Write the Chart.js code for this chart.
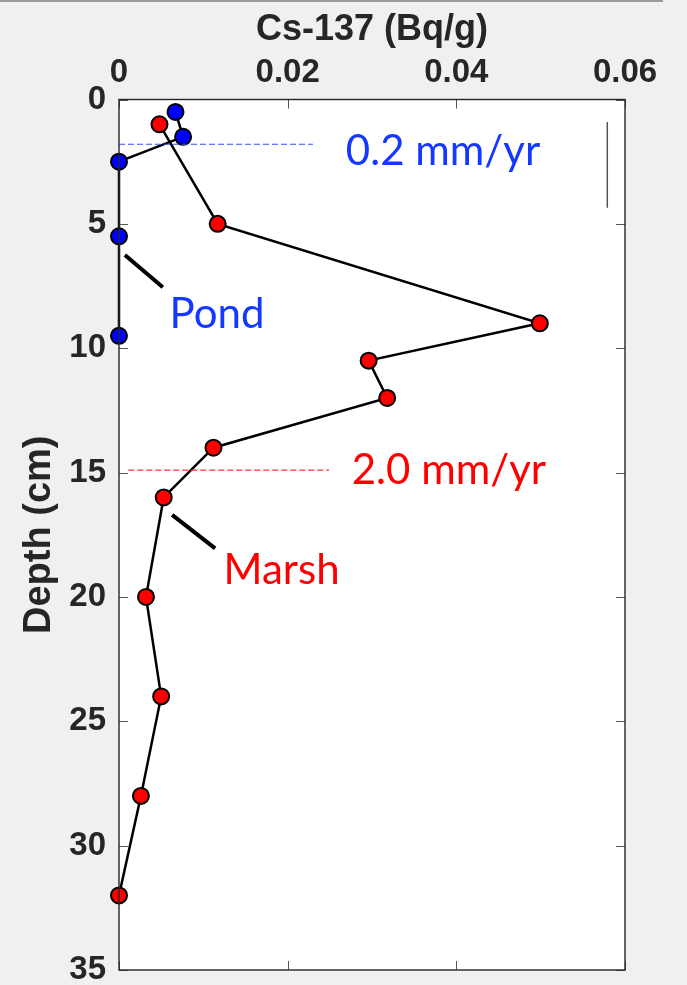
<!DOCTYPE html>
<html>
<head>
<meta charset="utf-8">
<script src="https://cdn.jsdelivr.net/npm/chart.js@4/dist/chart.umd.min.js"></script>
<style>
  html, body { margin: 0; padding: 0; background: #f0f0f0; }
  #wrap { position: relative; width: 687px; height: 985px; }
  #topline { position: absolute; left: 0; top: 0; width: 663px; height: 2px; background: #9a9a9a; }
</style>
</head>
<body>
<div id="wrap">
  <div id="topline"></div>
  <canvas id="csChart" width="687" height="985"></canvas>
</div>
<script>
/* ---------- Cs-137 activity profiles, pond core and marsh core ---------- */

var pondDepth = [0.5, 1.5, 2.5, 5.5, 9.5];
var pondCs = [0.0067, 0.0076, 0, 0, 0];

var marshDepth = [1, 5, 9, 10.5, 12, 14, 16, 20, 24, 28, 32];
var marshCs = [0.0048, 0.0117, 0.0499, 0.0296, 0.0318, 0.0112, 0.0053, 0.0032, 0.0050, 0.0026, 0];

var xTicks = [0, 0.02, 0.04, 0.06];
var yTicks = [0, 5, 10, 15, 20, 25, 30, 35];

// accumulation-rate markers (depth of the dashed line, its x extent)
var pondRateDepth = 1.8;
var pondRateX = [0, 0.023];
var marshRateDepth = 14.9;
var marshRateX = [0.0011, 0.0249];

// leader lines from the core labels to the profiles
var pondLeaderX = [0.0007, 0.0052];
var pondLeaderY = [6.25, 7.55];
var marshLeaderX = [0.0063, 0.0114];
var marshLeaderY = [16.7, 18.05];

// thin vertical bar near the right edge
var barX = 0.0579;
var barY = [0.9, 4.35];

var labels = [
  { text: "0.2 mm/yr", x: 0.0269, y: 2.63, color: "#1438ff" },
  { text: "2.0 mm/yr", x: 0.0276, y: 15.45, color: "#ff0000" },
  { text: "Pond", x: 0.006, y: 9.2, color: "#1438ff" },
  { text: "Marsh", x: 0.0124, y: 19.5, color: "#ff0000" }
];

function pts(xs, ys) {
  return xs.map(function (x, i) { return { x: x, y: ys[i] }; });
}

var frameColor = "#262626";
var tickFont = { family: "Liberation Sans", weight: "bold", size: 33, lineHeight: 1 };

var plotBox = {
  id: "plotBox",
  beforeDatasetsDraw: function (chart) {
    var a = chart.chartArea, ctx = chart.ctx;
    ctx.save();
    ctx.fillStyle = "#ffffff";
    ctx.fillRect(a.left, a.top, a.right - a.left, a.bottom - a.top);
    ctx.restore();
  },
  afterDraw: function (chart) {
    var a = chart.chartArea, ctx = chart.ctx;
    var xs = chart.scales.x, ys = chart.scales.y;
    var len = 9;
    ctx.save();
    ctx.strokeStyle = "#555555";
    ctx.lineWidth = 1;
    ctx.beginPath();
    xTicks.forEach(function (v) {
      var px = Math.round(xs.getPixelForValue(v)) + 0.5;
      ctx.moveTo(px, a.top); ctx.lineTo(px, a.top + len);
      ctx.moveTo(px, a.bottom); ctx.lineTo(px, a.bottom - len);
    });
    yTicks.forEach(function (v) {
      var py = Math.round(ys.getPixelForValue(v)) + 0.5;
      ctx.moveTo(a.left, py); ctx.lineTo(a.left + len, py);
      ctx.moveTo(a.right, py); ctx.lineTo(a.right - len, py);
    });
    ctx.stroke();
    ctx.strokeStyle = frameColor;
    ctx.lineWidth = 1.4;
    ctx.strokeRect(a.left, a.top, a.right - a.left, a.bottom - a.top);
    ctx.restore();
  }
};

var coreLabels = {
  id: "coreLabels",
  afterDatasetsDraw: function (chart) {
    var ctx = chart.ctx, xs = chart.scales.x, ys = chart.scales.y;
    ctx.save();
    ctx.font = "42px Lato";
    ctx.textAlign = "left";
    ctx.textBaseline = "alphabetic";
    labels.forEach(function (l) {
      ctx.fillStyle = l.color;
      ctx.fillText(l.text, xs.getPixelForValue(l.x), ys.getPixelForValue(l.y));
    });
    ctx.restore();
  }
};

new Chart("csChart", {
  type: "scatter",
  data: {
    datasets: [
      {
        data: pts(pondRateX, [pondRateDepth, pondRateDepth]),
        showLine: true, borderColor: "#2f55ff", borderWidth: 1.2,
        borderDash: [6, 3], pointRadius: 0
      },
      {
        data: pts(marshRateX, [marshRateDepth, marshRateDepth]),
        showLine: true, borderColor: "#ff3030", borderWidth: 1.2,
        borderDash: [6, 3], pointRadius: 0
      },
      {
        data: pts([barX, barX], barY),
        showLine: true, borderColor: "#555555", borderWidth: 1.5, pointRadius: 0
      },
      {
        data: pts(pondLeaderX, pondLeaderY),
        showLine: true, borderColor: "#000000", borderWidth: 4, pointRadius: 0
      },
      {
        data: pts(marshLeaderX, marshLeaderY),
        showLine: true, borderColor: "#000000", borderWidth: 4, pointRadius: 0
      },
      {
        label: "Pond",
        data: pts(pondCs, pondDepth),
        showLine: true, borderColor: "#000000", borderWidth: 2.5,
        pointBackgroundColor: "#0000ff", pointBorderColor: "#000000",
        pointBorderWidth: 2, pointRadius: 8, clip: false
      },
      {
        label: "Marsh",
        data: pts(marshCs, marshDepth),
        showLine: true, borderColor: "#000000", borderWidth: 2.5,
        pointBackgroundColor: "#ff0000", pointBorderColor: "#000000",
        pointBorderWidth: 2, pointRadius: 8, clip: false
      }
    ]
  },
  options: {
    responsive: false,
    animation: false,
    events: [],
    layout: { padding: { left: 0, right: 62, top: 0, bottom: 15 } },
    plugins: {
      legend: { display: false },
      tooltip: { enabled: false }
    },
    scales: {
      x: {
        type: "linear",
        position: "top",
        min: 0, max: 0.06,
        afterBuildTicks: function (s) { s.ticks = xTicks.map(function (v) { return { value: v }; }); },
        afterFit: function (s) { s.height = 99.5; s.paddingLeft = 0; s.paddingRight = 0; },
        grid: { display: false, drawTicks: false, tickLength: 0 },
        border: { display: false },
        ticks: {
          color: "#262626", padding: 10, font: tickFont, maxRotation: 0,
          callback: function (v) { return String(+v.toFixed(2)); }
        },
        title: {
          display: true, text: "Cs-137 (Bq/g)", color: "#262626",
          font: { family: "Liberation Sans", weight: "bold", size: 36, lineHeight: 1 },
          padding: { top: 12, bottom: 0 }
        }
      },
      y: {
        type: "linear",
        reverse: true,
        min: 0, max: 35,
        afterBuildTicks: function (s) { s.ticks = yTicks.map(function (v) { return { value: v }; }); },
        afterFit: function (s) { s.width = 119; s.paddingTop = 0; s.paddingBottom = 0; },
        grid: { display: false, drawTicks: false, tickLength: 0 },
        border: { display: false },
        ticks: { color: "#262626", padding: 13, font: tickFont },
        title: {
          display: true, text: "Depth (cm)", color: "#262626",
          font: { family: "Liberation Sans", weight: "bold", size: 38, lineHeight: 1 },
          padding: { top: 21, bottom: 0 }
        }
      }
    }
  },
  plugins: [plotBox, coreLabels]
});
</script>
</body>
</html>
